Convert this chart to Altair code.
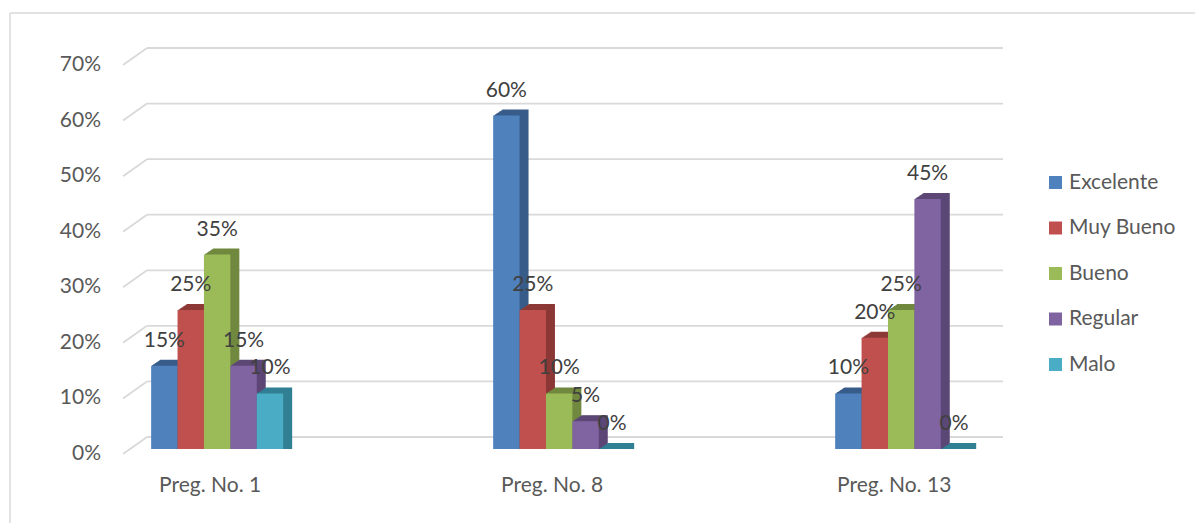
import altair as alt
import pandas as pd

# --- data -------------------------------------------------------------
categories = ["Preg. No. 1", "Preg. No. 8", "Preg. No. 13"]
series = ["Excelente", "Muy Bueno", "Bueno", "Regular", "Malo"]

excelente = [0.15, 0.60, 0.10]
muy_bueno = [0.25, 0.25, 0.20]
bueno = [0.35, 0.10, 0.25]
regular = [0.15, 0.05, 0.45]
malo = [0.10, 0.00, 0.00]

face_colors = ["#4F81BD", "#C0504D", "#9BBB59", "#8064A2", "#4BACC6"]
side_colors = ["#385D8A", "#8C3836", "#71893F", "#5C4776", "#317F93"]

y_ticks = [0.0, 0.1, 0.2, 0.3, 0.4, 0.5, 0.6, 0.7]

rows = []
for serie, vals, side in zip(series, [excelente, muy_bueno, bueno, regular, malo], side_colors):
    for preg, v in zip(categories, vals):
        rows.append({"pregunta": preg, "serie": serie, "valor": v, "lado": side})
df = pd.DataFrame(rows)
cat_df = pd.DataFrame({"pregunta": categories})
grid_df = pd.DataFrame({"t": y_ticks})

# --- layout -----------------------------------------------------------
W, H = 880, 389
PAD_IN, PAD_OUT, ALIGN = 0.614, 0.0935, 0.44
BANDWIDTH = W / (len(categories) - PAD_IN + 2 * PAD_OUT) * (1 - PAD_IN)
DEPTH_X, DEPTH_Y = 9, 6          # pseudo-3D depth of the columns
WALL_X, WALL_Y = 24, 12          # back wall shift of the gridlines
FONT = "Lato"
FS = 21
TEXT_GREY = "#595959"
GRID = "#D9D9D9"

x_scale = alt.Scale(paddingInner=PAD_IN, paddingOuter=PAD_OUT, align=ALIGN)
y_scale = alt.Scale(domain=[0, 0.7], nice=False, zero=True)


def x_enc():
    return alt.X("pregunta:N", sort=categories, scale=x_scale, axis=None)


def off_enc(shift=0):
    return alt.XOffset(
        "serie:N", sort=series,
        scale=alt.Scale(type="band", domain=series, range=[shift, BANDWIDTH + shift],
                        paddingInner=0, paddingOuter=0),
    )


base = alt.Chart(df)

# chart frame
frame_df = pd.DataFrame({"k": [0]})
frame_top = alt.Chart(frame_df).mark_rule(color=GRID, strokeWidth=1.5).encode(
    x=alt.value(-113), x2=alt.value(W + 200), y=alt.value(-47)
)
frame_left = alt.Chart(frame_df).mark_rule(color=GRID, strokeWidth=1.5).encode(
    x=alt.value(-113), y=alt.value(-47), y2=alt.value(H + 80)
)

# gridlines on the back wall plus the short diagonal floor edges
grid_back = alt.Chart(grid_df).mark_rule(color=GRID, strokeWidth=1.8, yOffset=-WALL_Y).encode(
    x=alt.value(WALL_X), x2=alt.value(W),
    y=alt.Y("t:Q", scale=y_scale, axis=None),
)
grid_side = alt.Chart(grid_df).mark_rule(
    color=GRID, strokeWidth=1.8, yOffset=5, y2Offset=-WALL_Y
).encode(
    x=alt.value(0), x2=alt.value(WALL_X),
    y=alt.Y("t:Q", scale=y_scale, axis=None), y2="t:Q",
)

# value axis labels
y_labels = alt.Chart(grid_df).mark_text(
    align="right", baseline="middle", dy=5, font=FONT, fontSize=FS, color=TEXT_GREY
).encode(
    x=alt.value(-22),
    y=alt.Y("t:Q", scale=y_scale, axis=None),
    text=alt.Text("t:Q", format=".0%"),
)

# category labels under each group (plot bottom is the zero baseline)
x_labels = alt.Chart(cat_df).mark_text(
    align="center", baseline="middle", dx=-7, dy=37, font=FONT, fontSize=FS, color=TEXT_GREY
).encode(
    x=x_enc(),
    y=alt.value(H),
    text="pregunta:N",
)

# darker side/top faces: stacked 1px steps build the bevel,
# each step runs from the raised top edge down to the baseline
back_layers = []
for k in range(DEPTH_X, 0, -1):
    back_layers.append(
        base.mark_bar(yOffset=-k * DEPTH_Y / DEPTH_X, y2Offset=0).encode(
            x=x_enc(),
            xOffset=off_enc(k),
            y=alt.Y("valor:Q", scale=y_scale, axis=None),
            y2=alt.datum(0),
            color=alt.Color("lado:N", scale=None),
        )
    )

front = base.mark_bar().encode(
    x=x_enc(),
    xOffset=off_enc(0),
    y=alt.Y("valor:Q", scale=y_scale, axis=None),
    color=alt.Color(
        "serie:N", sort=series,
        scale=alt.Scale(domain=series, range=face_colors),
        legend=alt.Legend(
            title=None, orient="none", legendX=922, legendY=112,
            symbolType="square", symbolSize=169, symbolStrokeWidth=0,
            labelFont=FONT, labelFontSize=FS, labelColor=TEXT_GREY,
            rowPadding=23.5, labelOffset=3,
        ),
    ),
)

labels = base.mark_text(dy=-25, font=FONT, fontSize=FS, color="#404040").encode(
    x=x_enc(),
    xOffset=off_enc(0),
    y=alt.Y("valor:Q", scale=y_scale, axis=None),
    text=alt.Text("valor:Q", format=".0%"),
)

chart = (
    alt.layer(grid_side, grid_back, y_labels, x_labels, *back_layers, front, labels,
              frame_top, frame_left)
    .resolve_scale(color="independent", xOffset="independent")
    .properties(
        width=W, height=H,
        autosize=alt.AutoSizeParams(type="none"),
        padding={"left": 123, "top": 60, "right": 192, "bottom": 74},
        background="white",
    )
    .configure_view(stroke=None)
)

chart.save("out.html", embed_options={"renderer": "svg", "actions": False})
